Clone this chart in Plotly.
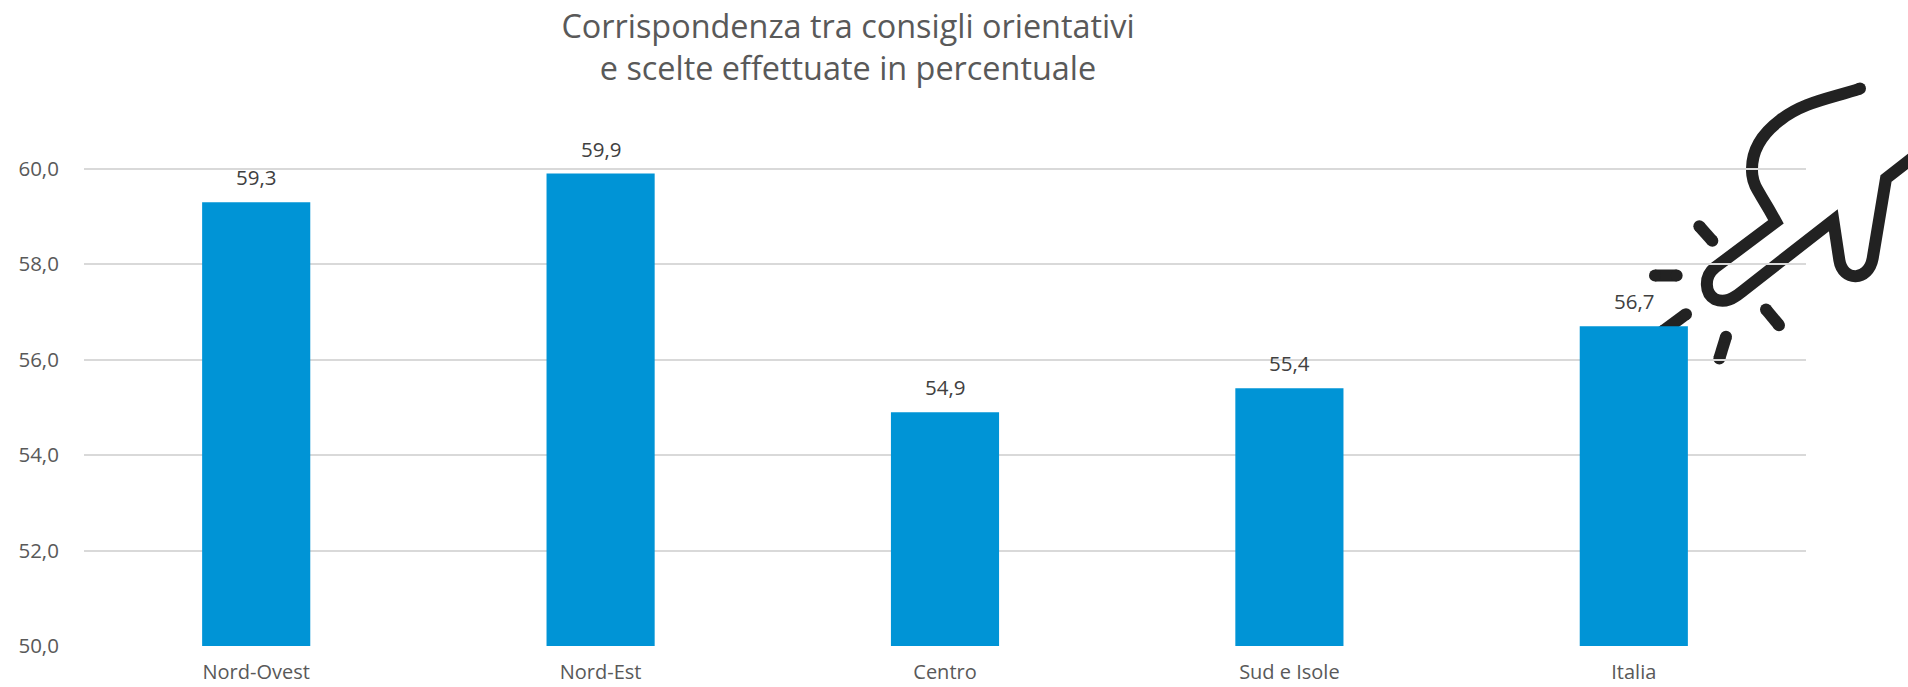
import plotly.graph_objects as go

categories = ["Nord-Ovest", "Nord-Est", "Centro", "Sud e Isole", "Italia"]
values = [59.3, 59.9, 54.9, 55.4, 56.7]
value_labels = ["59,3", "59,9", "54,9", "55,4", "56,7"]
tick_values = [50, 52, 54, 56, 58, 60]
tick_labels = ["50,0", "52,0", "54,0", "56,0", "58,0", "60,0"]
title_text = "Corrispondenza tra consigli orientativi<br>e scelte effettuate in percentuale"

FONT = "Open Sans"
W, H = 1908, 687
L, R, B, T = 84, 1806, 646, 120.75


def px(x, y):
    return (x - L) / (R - L), (B - y) / (B - T)


def zoom_pt(zx, zy):
    return px(1600 + zx / 3, 60 + zy / 3)


def path_from(cmds):
    out = []
    for c, pts in cmds:
        coords = " ".join("%.5f,%.5f" % zoom_pt(*p) for p in pts)
        out.append(c + " " + coords)
    return " ".join(out)


ICON = "#222222"
main_stroke = path_from([
    ("M", [(780, 85)]),
    ("C", [(690, 115), (610, 125), (540, 180)]),
    ("C", [(480, 225), (450, 280), (457, 345)]),
    ("C", [(462, 385), (480, 395), (528, 485)]),
    ("L", [(345, 622)]),
    ("C", [(310, 650), (315, 700), (345, 717)]),
    ("C", [(375, 730), (400, 715), (425, 695)]),
    ("L", [(700, 480)]),
    ("L", [(718, 600)]),
    ("C", [(728, 665), (805, 665), (818, 595)]),
    ("L", [(858, 355)]),
    ("L", [(935, 295)]),
])
dashes = [
    ((298, 498), (337, 542)),
    ((165, 646), (230, 646)),
    ((258, 762), (190, 812)),
    ((498, 748), (537, 795)),
    ((378, 830), (358, 895)),
]

STROKE = 12
shapes = [dict(type="path", path=main_stroke, xref="paper", yref="paper", layer="below",
               line=dict(color=ICON, width=STROKE), fillcolor="rgba(0,0,0,0)")]
for a, b in dashes:
    xa, ya = zoom_pt(*a)
    xb, yb = zoom_pt(*b)
    shapes.append(dict(type="line", x0=xa, y0=ya, x1=xb, y1=yb, xref="paper", yref="paper",
                       layer="below", line=dict(color=ICON, width=STROKE)))
    for x, y in ((xa, ya), (xb, yb)):
        r = STROKE / 2
        shapes.append(dict(type="circle", xref="paper", yref="paper", layer="below",
                           x0=x - r / (R - L), x1=x + r / (R - L),
                           y0=y - r / (B - T), y1=y + r / (B - T),
                           fillcolor=ICON, line=dict(width=0)))
# round the open end of the main stroke
x, y = zoom_pt(780, 85)
r = STROKE / 2
shapes.append(dict(type="circle", xref="paper", yref="paper", layer="below",
                   x0=x - r / (R - L), x1=x + r / (R - L),
                   y0=y - r / (B - T), y1=y + r / (B - T),
                   fillcolor=ICON, line=dict(width=0)))

fig = go.Figure(go.Bar(
    x=categories, y=values, width=0.314,
    marker=dict(color="#0094D6", line=dict(width=0)),
    hoverinfo="skip",
))

annotations = [
    dict(x=c, y=v, xref="x", yref="y", text=t, showarrow=False, yanchor="bottom", yshift=9,
         font=dict(family=FONT, size=20.5, color="#404040"))
    for c, v, t in zip(categories, values, value_labels)
]

fig.update_layout(
    width=W, height=H,
    autosize=False,
    margin=dict(l=L, r=W - R, t=T, b=H - B, pad=0),
    paper_bgcolor="white", plot_bgcolor="white",
    showlegend=False,
    shapes=shapes,
    annotations=annotations,
    title=dict(text=title_text, x=848 / W, xanchor="center", y=1 - 38 / H, yanchor="middle",
               font=dict(family=FONT, size=32.4, color="#595959")),
    font=dict(family=FONT),
)
fig.update_xaxes(automargin=False, showline=False, showgrid=False, zeroline=False,
                 ticks="outside", ticklen=8, tickcolor="rgba(0,0,0,0)",
                 tickfont=dict(family=FONT, size=20, color="#595959"))
fig.update_yaxes(automargin=False, range=[50, 61], tickvals=tick_values, ticktext=tick_labels,
                 showgrid=True, gridcolor="#D9D9D9", gridwidth=2, zeroline=False, showline=False,
                 ticks="outside", ticklen=20, tickcolor="rgba(0,0,0,0)",
                 tickfont=dict(family=FONT, size=20.5, color="#595959"))

fig.write_html("out.html", config=dict(displayModeBar=False),
               post_script="document.body.style.margin='0';document.body.style.overflow='hidden';")
